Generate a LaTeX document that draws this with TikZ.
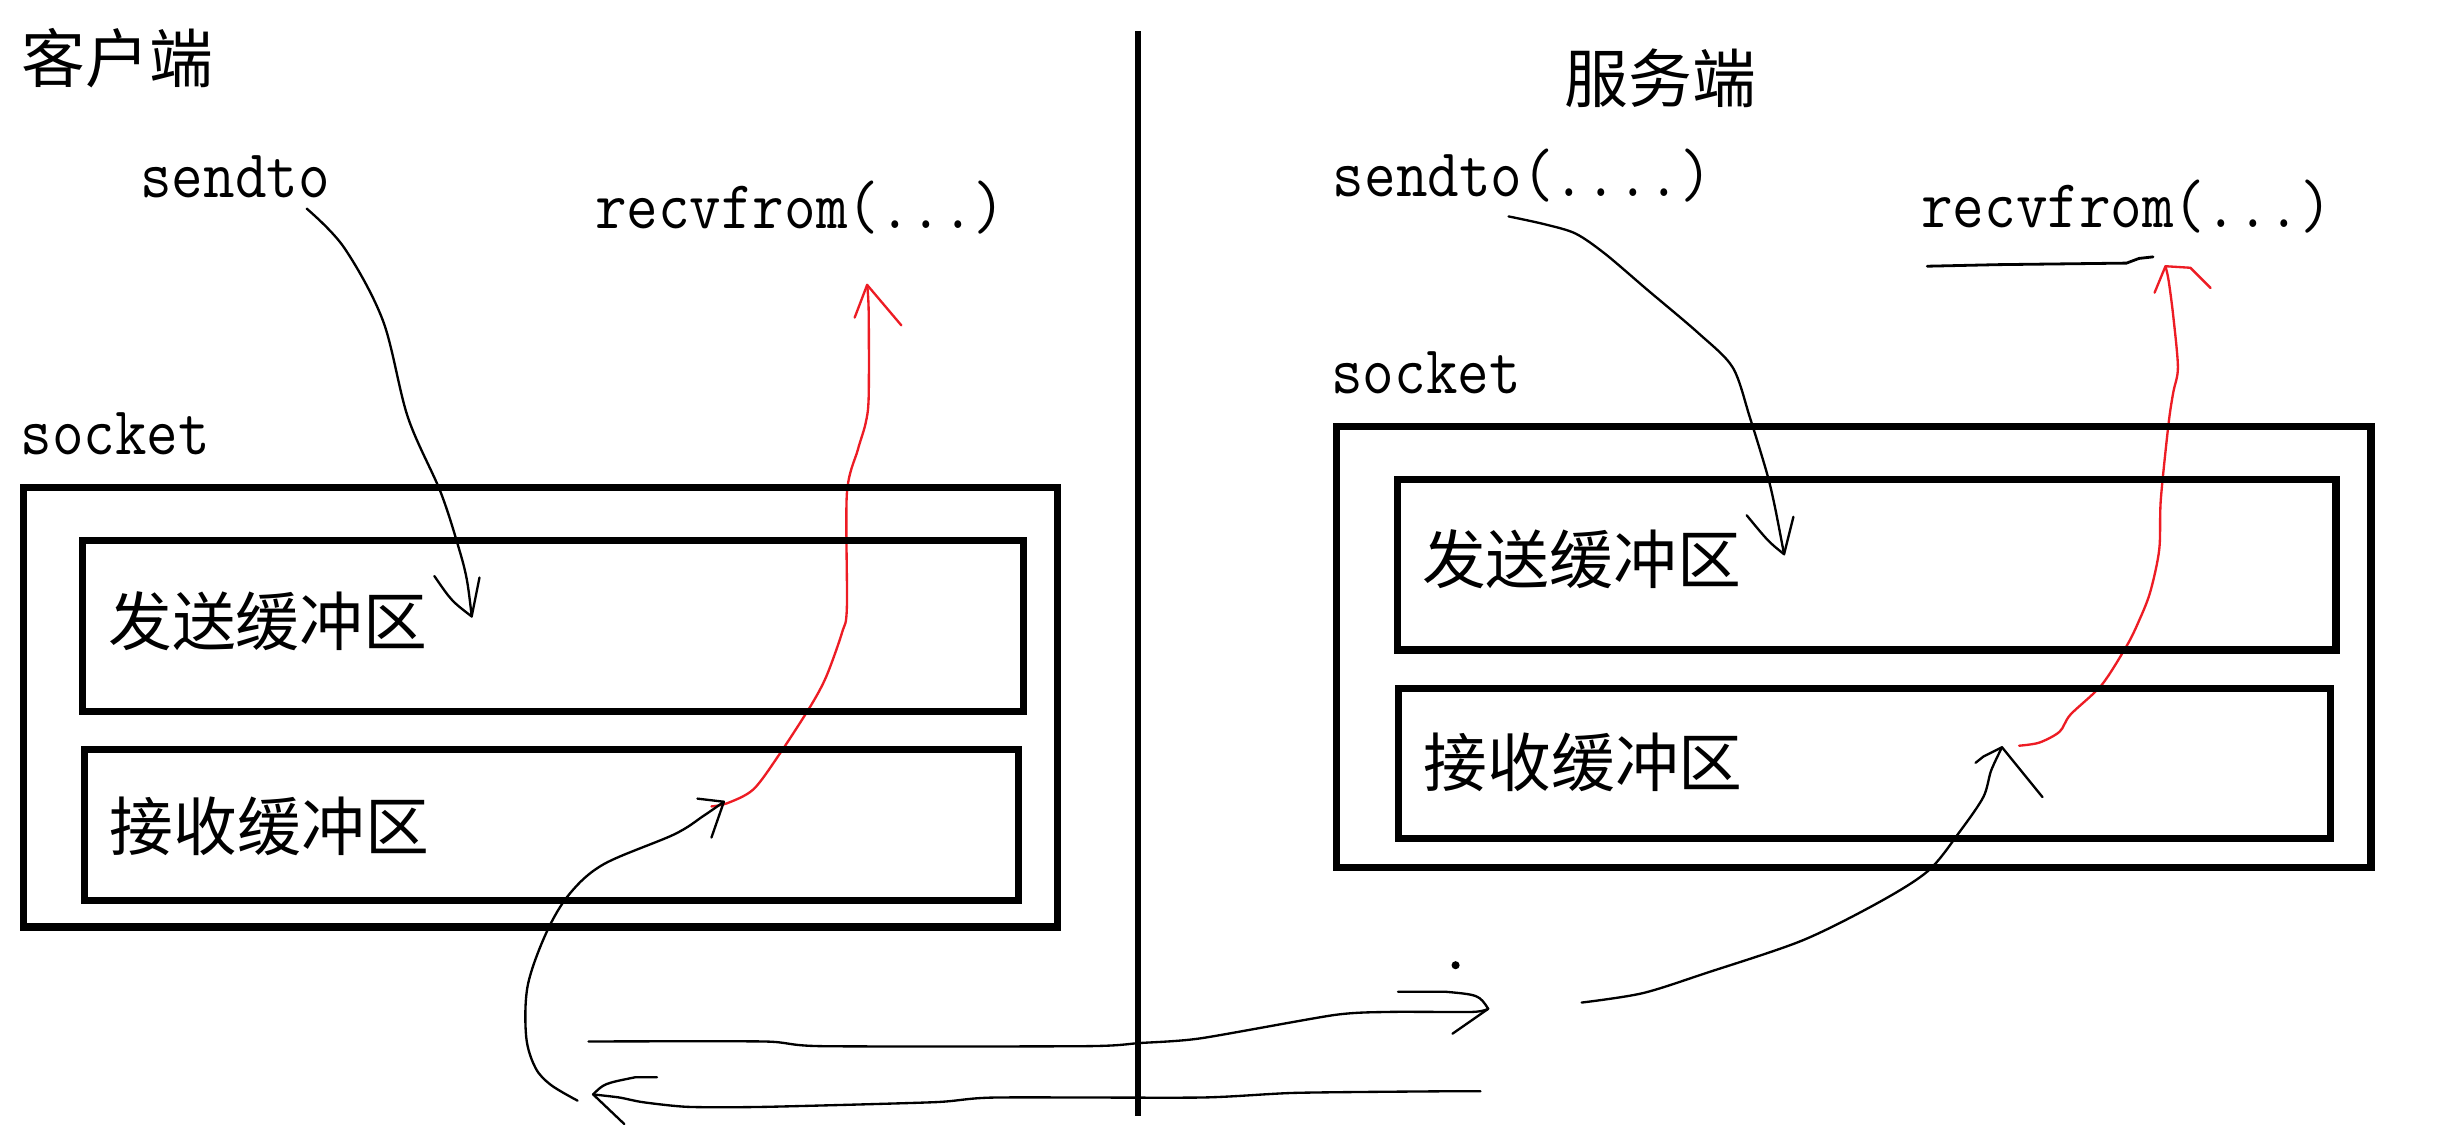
\documentclass[tikz,border=0pt]{standalone}
\usepackage{fontspec}
\usepackage{graphicx}
\newfontfamily\cjkfnt{Noto Sans CJK SC}
\definecolor{penred}{RGB}{237,28,36}
\newcommand\lattext[1]{\scalebox{0.895}[1]{\fontsize{44}{48}\selectfont\ttfamily #1}}
\tikzset{
  cjktxt/.style={font=\cjkfnt\fontsize{41}{45}\selectfont, inner sep=0pt, anchor=center},
  lattxt/.style={inner sep=0pt, anchor=base west},
  framebox/.style={draw, line width=4.6pt, inner sep=0pt},
  pen/.style={line width=1.5pt, line cap=round, line join=round},
  redpen/.style={pen, draw=penred},
  divider/.style={line width=4.4pt},
}
\begin{document}
\begin{tikzpicture}[x=1pt,y=-1pt]
\useasboundingbox[fill=white] (0,0) rectangle (1568,724);

% ---------- texts ----------
\node[cjktxt] (client) at (75.5,37.5) {客户端};
\node[cjktxt] (server) at (1066.5,50) {服务端};
\node[lattxt] (lsend) at (90,127) {\lattext{sendto}};
\node[lattxt] (lrecv) at (382,147) {\lattext{recvfrom(...)}};
\node[lattxt] (lsock) at (13,292) {\lattext{socket}};
\node[lattxt] (rsend) at (856,126) {\lattext{sendto(....)}};
\node[lattxt] (rrecv) at (1234,146) {\lattext{recvfrom(...)}};
\node[lattxt] (rsock) at (855,252.5) {\lattext{socket}};

% ---------- named end points ----------
\coordinate (lsendS) at (197,134);
\coordinate (lsendT) at (303,396);
\coordinate (lredS) at (457,518);
\coordinate (lredT) at (557,183);
\coordinate (lretS) at (371,707);
\coordinate (lretT) at (465,515);
\coordinate (goS) at (378,669);
\coordinate (goT) at (956,648);
\coordinate (backS) at (951,701);
\coordinate (backT) at (381,703);
\coordinate (rinS) at (1016,644);
\coordinate (rinT) at (1286,480);
\coordinate (rredS) at (1297,479);
\coordinate (rredT) at (1391,171);
\coordinate (rsendS) at (969,139);
\coordinate (rsendT) at (1146,356);
\coordinate (ulS) at (1238,171);
\coordinate (ulT) at (1383,165);
\coordinate (divTop) at (731,20);
\coordinate (divBot) at (731,717);

% ---------- divider ----------
\draw[divider] (divTop) -- (divBot);

% ---------- left side ----------
\draw[pen] plot[smooth, tension=0.55] coordinates {(lsendS) (221,159) (246,206) (262,268) (283,316) (295,353) (300,373) (lsendT)};
\draw[pen] (279,370) .. controls (290,386) .. (lsendT) -- (308,371);

\draw[redpen] plot[smooth, tension=0.5] coordinates {(lredS) (467,516) (484,507) (501,484) (521,453) (531,434) (541,406) (544,390) (544,317) (551,289) (556,272) (558,255) (558,200) (lredT)};
\draw[redpen] (549,204) -- (lredT) -- (579,209);

\draw[pen] plot[smooth, tension=0.55] coordinates {(lretS) (354,697) (344,686) (338,666) (339,633) (351,599) (366,574) (388,555) (433,536) (452,524) (lretT)};
\draw[pen] (448,513) -- (lretT) -- (457,538);

% ---------- bottom transfer lines ----------
\draw[pen] plot[smooth, tension=0.4] coordinates {(goS) (491,669) (528,672) (698,672) (732,670) (771,667) (857,652) (893,650) (946,650) (goT)};
\draw[pen] (898,637) -- (928,637) .. controls (950,639) .. (goT) -- (933,664);
\fill (935,620) circle (2.6);

\draw[pen] plot[smooth, tension=0.4] coordinates {(backS) (926,701) (832,702) (771,705) (639,705) (600,708) (491,711) (442,711) (413,708) (398,705) (backT)};
\draw[pen] (422,692) -- (408,692) .. controls (388,696) .. (backT) -- (401,722);

% ---------- right side ----------
\draw[pen] plot[smooth, tension=0.5] coordinates {(rsendS) (992,144) (1012,150) (1031,163) (1058,186) (1091,214) (1113,236) (1124,268) (1135,304) (1140,325) (rsendT)};
\draw[pen] (1122,331) .. controls (1136,348) .. (rsendT) -- (1152,332);

\draw[pen] plot[smooth, tension=0.5] coordinates {(rinS) (1055,638) (1096,625) (1158,604) (1208,579) (1239,559) (1259,534) (1274,512) (1279,495) (rinT)};
\draw[pen] (1269,490) -- (1274,486) -- (rinT) -- (1312,512);

\draw[redpen] plot[smooth, tension=0.5] coordinates {(rredS) (1310,477) (1323,470) (1330,459) (1350,440) (1366,415) (1373,401) (1381,381) (1387,353) (1388,321) (1393,272) (1396,252) (1399,236) (1396,203) (1393,180) (rredT)};
\draw[redpen] (1384,188) -- (rredT) -- (1407,172) -- (1420,185);

\draw[line width=1.8pt, line cap=round] plot[sharp plot] coordinates {(ulS) (1283,170) (1366,169) (1374,166) (ulT)};

% ---------- frames ----------
\node[framebox, minimum width=664.5pt, minimum height=282.5pt] (lsocket) at (347.25,454.25) {};
\node[framebox, minimum width=604.5pt, minimum height=110pt] (lsbuf) at (355.25,402) {};
\node[framebox, minimum width=600pt, minimum height=97pt] (lrbuf) at (354.5,530) {};
\node[framebox, minimum width=664.5pt, minimum height=283pt] (rsocket) at (1190.75,415.5) {};
\node[framebox, minimum width=603pt, minimum height=109.5pt] (rsbuf) at (1199,362.75) {};
\node[framebox, minimum width=598.5pt, minimum height=96.5pt] (rrbuf) at (1197.75,490.25) {};

\node[cjktxt] (lsbuftxt) at (172,399) {发送缓冲区};
\node[cjktxt] (lrbuftxt) at (173,530.5) {接收缓冲区};
\node[cjktxt] (rsbuftxt) at (1016,359.5) {发送缓冲区};
\node[cjktxt] (rrbuftxt) at (1017,490) {接收缓冲区};
\end{tikzpicture}
\end{document}
